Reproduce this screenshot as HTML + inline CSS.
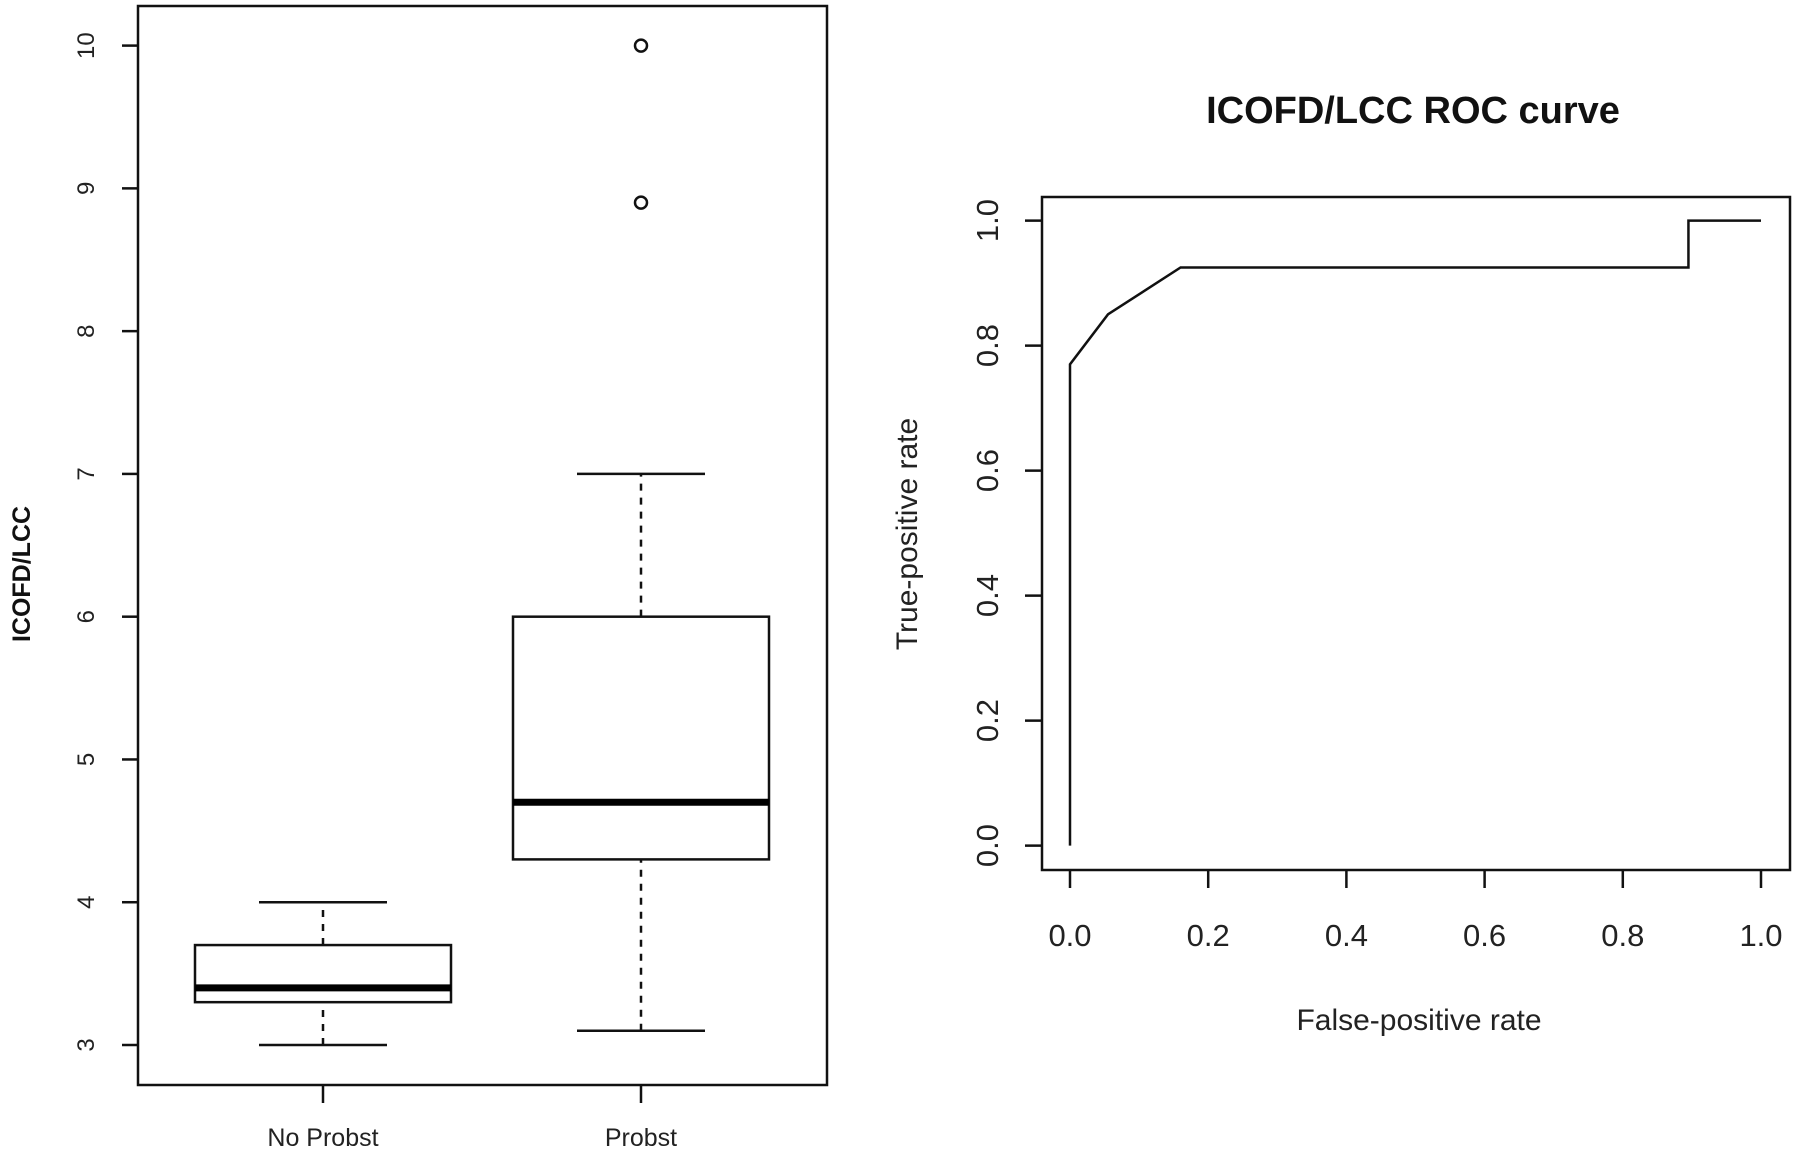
<!DOCTYPE html>
<html><head><meta charset="utf-8"><style>
body{margin:0;background:#fff;}
svg{display:block;font-family:"Liberation Sans",sans-serif;}
</style></head><body>
<svg id="c" width="1800" height="1153" viewBox="0 0 1800 1153" xmlns="http://www.w3.org/2000/svg">
<g id="left"></g>
<g id="right"></g>
</svg>
<script>
const groups = ["No Probst", "Probst"];
const whiskerLow = [3.0, 3.1];
const q1 = [3.3, 4.3];
const medians = [3.4, 4.7];
const q3 = [3.7, 6.0];
const whiskerHigh = [4.0, 7.0];
const outliers = [[], [8.9, 10.0]];
const boxYTicks = [3, 4, 5, 6, 7, 8, 9, 10];
const rocFpr = [0, 0, 0.055, 0.16, 0.895, 0.895, 1];
const rocTpr = [0, 0.77, 0.85, 0.925, 0.925, 1, 1];
const rocTicks = [0, 0.2, 0.4, 0.6, 0.8, 1.0];

const NS = "http://www.w3.org/2000/svg";
function mk(parent, tag, attrs, text){
  const e = document.createElementNS(NS, tag);
  for (const k in attrs) e.setAttribute(k, attrs[k]);
  if (text !== undefined) e.textContent = text;
  parent.appendChild(e);
  return e;
}
const L = document.getElementById('left');
const R = document.getElementById('right');
const S = {stroke:'#111', 'stroke-width':2.5, fill:'none'};

// ---- Box plot ----
const by = v => 1045 - (v - 3) * (1045 - 45.6) / 7;
const bx = i => [323, 641][i];
let frame = mk(L, 'rect', Object.assign({x:138, y:6, width:689, height:1079}, S));


boxYTicks.forEach(t => {
  const tk = mk(L, 'line', Object.assign({x1:122, x2:138, y1:by(t), y2:by(t)}, S));
  
  
  const lb = mk(L, 'text', {x:0, y:0, transform:`translate(94,${by(t)}) rotate(-90)`, 'text-anchor':'middle', 'font-size':24, fill:'#222'}, String(t));
  
  
});
const yt = mk(L, 'text', {transform:'translate(30,574) rotate(-90)', 'text-anchor':'middle', 'font-size':25, 'font-weight':'bold', fill:'#111'}, 'ICOFD/LCC');


const halfBox = 128, halfCap = 64;
groups.forEach((g, i) => {
  const cx = bx(i);
  const grp = mk(L, 'g', {});
  
  
  mk(grp, 'line', Object.assign({x1:cx, x2:cx, y1:by(whiskerLow[i]), y2:by(q1[i]), 'stroke-dasharray':'7,7'}, S));
  mk(grp, 'line', Object.assign({x1:cx, x2:cx, y1:by(q3[i]), y2:by(whiskerHigh[i]), 'stroke-dasharray':'7,7'}, S));
  mk(grp, 'line', Object.assign({x1:cx-halfCap, x2:cx+halfCap, y1:by(whiskerLow[i]), y2:by(whiskerLow[i])}, S));
  mk(grp, 'line', Object.assign({x1:cx-halfCap, x2:cx+halfCap, y1:by(whiskerHigh[i]), y2:by(whiskerHigh[i])}, S));
  mk(grp, 'rect', Object.assign({x:cx-halfBox, y:by(q3[i]), width:2*halfBox, height:by(q1[i])-by(q3[i])}, S));
  mk(grp, 'line', {x1:cx-halfBox, x2:cx+halfBox, y1:by(medians[i]), y2:by(medians[i]), stroke:'#000', 'stroke-width':7});
  outliers[i].forEach(o => {
    const c = mk(grp, 'circle', Object.assign({cx:cx, cy:by(o), r:6}, S));
    
    
  });
  const tk = mk(L, 'line', Object.assign({x1:cx, x2:cx, y1:1085, y2:1103}, S));
  
  
  const lb = mk(L, 'text', {x:cx, y:1146, 'text-anchor':'middle', 'font-size':25, fill:'#222'}, g);
  
  
});

// ---- ROC ----
const rx = v => 1070 + v * (1761 - 1070);
const ry = v => 845.6 - v * (845.6 - 220.6);
const t = mk(R, 'text', {x:1413, y:123, 'text-anchor':'middle', 'font-size':38, 'font-weight':'bold', fill:'#111'}, 'ICOFD/LCC ROC curve');


let f2 = mk(R, 'rect', Object.assign({x:1042, y:197, width:748, height:673}, S));


rocTicks.forEach(v => {
  const a = mk(R, 'line', Object.assign({x1:1025, x2:1042, y1:ry(v), y2:ry(v)}, S));
  
  
  const b = mk(R, 'text', {transform:`translate(998,${ry(v)}) rotate(-90)`, 'text-anchor':'middle', 'font-size':31, fill:'#222'}, v.toFixed(1));
  
  
  const c = mk(R, 'line', Object.assign({x1:rx(v), x2:rx(v), y1:870, y2:888}, S));
  
  
  const d = mk(R, 'text', {x:rx(v), y:946, 'text-anchor':'middle', 'font-size':31, fill:'#222'}, v.toFixed(1));
  
  
});
const xl = mk(R, 'text', {x:1419, y:1030, 'text-anchor':'middle', 'font-size':30, fill:'#222'}, 'False-positive rate');


const yl = mk(R, 'text', {transform:'translate(917,534) rotate(-90)', 'text-anchor':'middle', 'font-size':30, fill:'#222'}, 'True-positive rate');


const pts = rocFpr.map((x, i) => rx(x) + ',' + ry(rocTpr[i])).join(' ');
const pl = mk(R, 'polyline', Object.assign({points:pts}, S));


</script>
</body></html>
